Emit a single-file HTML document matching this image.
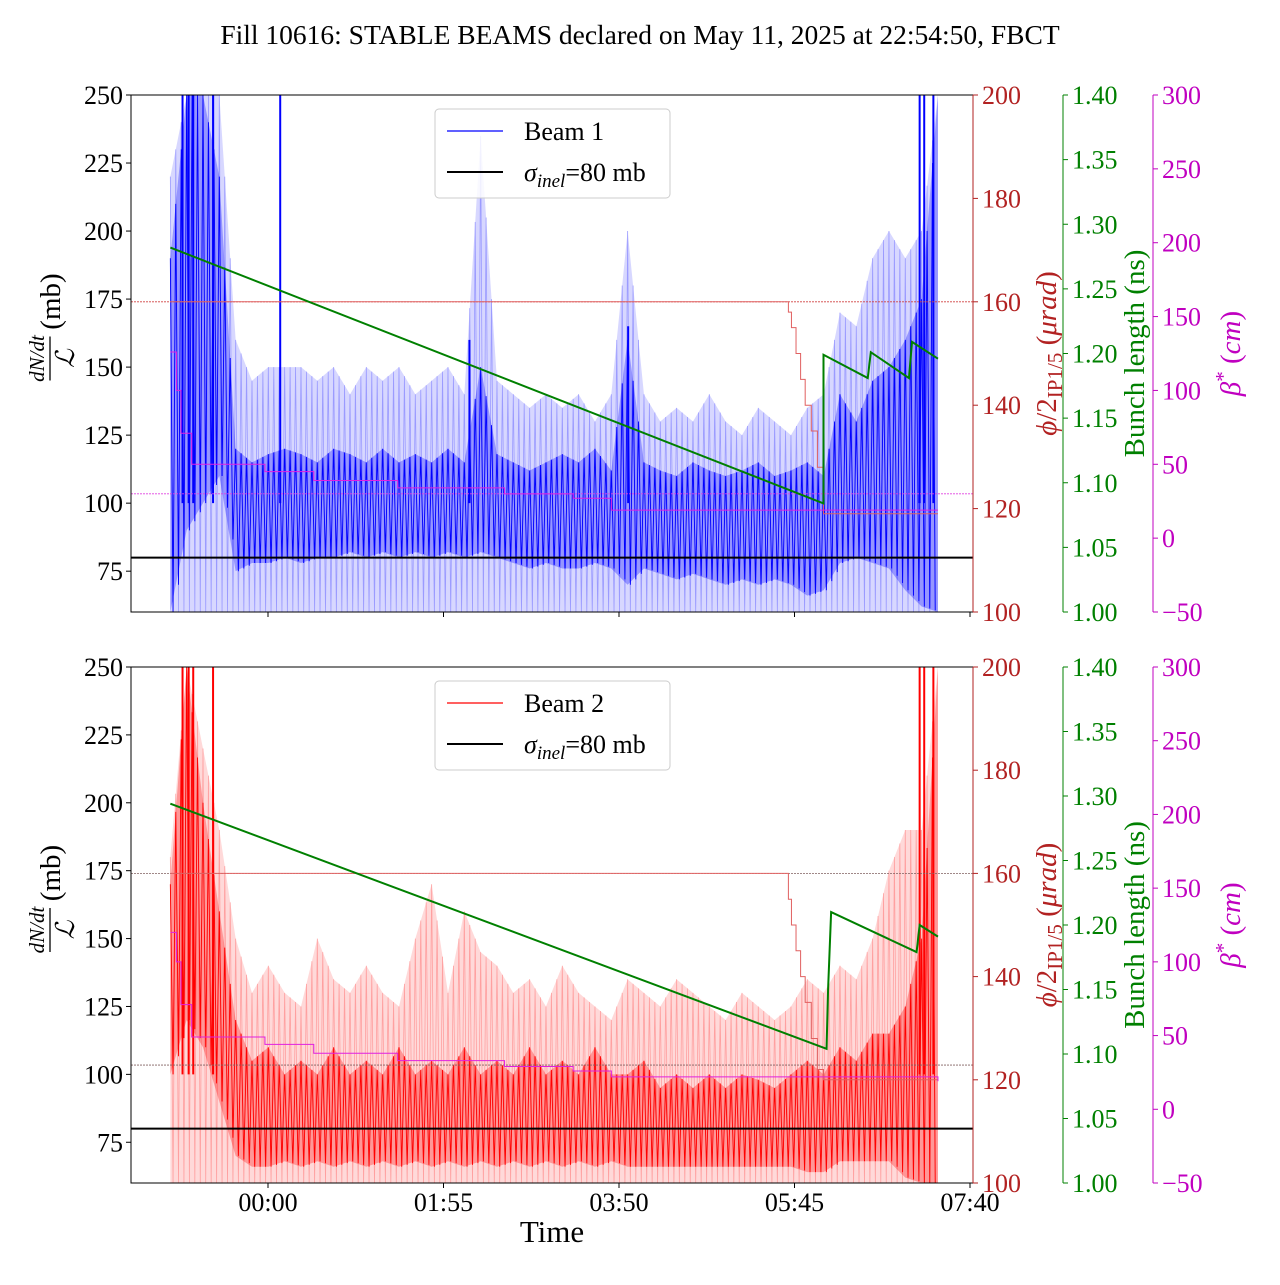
<!DOCTYPE html>
<html><head><meta charset="utf-8">
<style>
body{margin:0;background:#fff;}
svg text{font-family:"Liberation Serif",serif;}
</style></head>
<body>
<svg id="chart" width="1280" height="1280" xmlns="http://www.w3.org/2000/svg">
<text x="640" y="44" text-anchor="middle" font-size="27.5">Fill 10616: STABLE BEAMS declared on May 11, 2025 at 22:54:50, FBCT</text>
<text x="552" y="1242" text-anchor="middle" font-size="31">Time</text>
</svg>
<script>
const timeTicks=["00:00","01:55","03:50","05:45","07:40"];
const timeTickMin=[0,115,230,345,460];
const leftTicks=[75,100,125,150,175,200,225,250];
const redTicks=[100,120,140,160,180,200];
const greenTicks=[1.00,1.05,1.10,1.15,1.20,1.25,1.30,1.35,1.40];
const magTicks=[-50,0,50,100,150,200,250,300];
const tStart=-64, tEnd=439;
const b1Upper=[220,250,250,250,160,145,150,150,150,145,150,140,150,145,150,140,145,150,140,235,145,140,135,140,135,140,130,140,200,140,130,135,130,140,130,125,135,130,125,135,140,170,165,190,200,190,200,250];
const b1Lower=[60,60,60,60,60,60,60,60,60,60,60,60,60,60,60,60,60,60,60,60,60,60,60,60,60,60,60,60,60,60,60,60,60,60,60,60,60,60,60,60,60,60,60,60,60,60,60,60];
const b1DarkUp=[190,250,250,220,120,115,118,120,118,115,120,118,115,120,115,118,115,120,115,150,118,115,112,115,118,115,120,112,160,115,112,110,115,112,110,112,115,110,112,115,110,140,130,145,150,160,175,250];
const b1DarkLo=[60,90,100,110,75,78,78,80,78,80,80,82,80,82,80,82,80,82,80,82,80,78,76,78,76,76,78,76,70,76,74,72,74,72,70,72,70,72,70,66,68,78,80,78,76,68,62,60];
const b1SpikeT=[-56,-52,-49,-36,8,132,236,427,430,436];
const b1SpikeV=[250,250,250,250,250,160,165,250,250,250];
const b2Upper=[180,250,220,190,150,130,140,130,125,150,135,130,140,130,125,150,170,130,160,145,140,130,135,125,140,130,125,120,135,130,125,135,130,125,120,130,125,120,125,135,130,140,135,150,175,190,190,250];
const b2Lower=[60,60,60,60,60,60,60,60,60,60,60,60,60,60,60,60,60,60,60,60,60,60,60,60,60,60,60,60,60,60,60,60,60,60,60,60,60,60,60,60,60,60,60,60,60,60,60,60];
const b2DarkUp=[170,250,200,160,120,105,110,100,105,100,110,100,105,100,110,100,105,100,110,100,105,100,110,100,105,100,110,100,100,105,95,100,95,100,95,100,98,95,100,105,100,110,105,115,115,125,150,250];
const b2DarkLo=[100,120,110,90,70,66,66,68,66,68,66,68,66,68,66,68,66,68,66,68,66,68,66,68,66,68,66,68,66,66,66,66,66,66,66,66,66,66,66,64,64,68,68,68,68,62,60,60];
const b2SpikeT=[-56,-52,-49,-36,427,430,436];
const b2SpikeV=[250,250,250,250,250,250,250];
const bl1T=[-64,364,364,364,393,395,420,422,439];
const bl1V=[1.282,1.084,1.165,1.199,1.181,1.201,1.181,1.209,1.196];
const bl2T=[-64,366,367,369,425,427,439];
const bl2V=[1.294,1.104,1.150,1.210,1.179,1.200,1.191];
const xa1T=[-64,341,343,346,349,352,356,360,364,439];
const xa1V=[160,158,155,150,145,140,135,128,119,119];
const xa2T=[-64,341,343,346,349,352,356,360,364,439];
const xa2V=[160,155,150,145,140,135,128,122,120,120];
const bs1T=[-64,-60,-57,-50,-25,-2,30,85,155,200,225,439];
const bs1V=[126,100,71,50,50,45,39,34,30,27,19,19];
const bs2T=[-64,-60,-57,-50,-25,-2,30,85,155,200,225,439];
const bs2V=[120,100,71,49,49,44,38,33,29,26,22,19];

const NS="http://www.w3.org/2000/svg";
const svg=document.getElementById('chart');
const X0=131,X1=973;
function xT(t){return 268+t*175.5/115;}
function mk(tag,attrs,parent){const e=document.createElementNS(NS,tag);for(const k in attrs)e.setAttribute(k,attrs[k]);(parent||svg).appendChild(e);return e;}
function panel(top,bot,upper,lower,dUp,dLo,spT,spV,col,light,blT,blV,xaT,xaV,bsT,bsV,label,showX,pname){
  const yL=v=>top+(250-v)*(bot-top)/190;
  const yR=v=>top+(200-v)*(bot-top)/100;
  const yG=v=>top+(1.4-v)*(bot-top)/0.4;
  const yM=v=>top+(300-v)*(bot-top)/350;
  const g=mk('g',{});
  
  
  const cid='clip'+top;
  const cp=mk('clipPath',{id:cid},g);mk('rect',{x:X0,y:top,width:X1-X0,height:bot-top},cp);
  const pg=mk('g',{'clip-path':'url(#'+cid+')'},g);
  const tAt=(i,n)=>tStart+(tEnd-tStart)*i/(n-1);
  function bandPts(U,L){let p=[];const n=U.length;
    for(let i=0;i<n;i++)p.push(xT(tAt(i,n))+','+yL(U[i]));
    for(let i=n-1;i>=0;i--)p.push(xT(tAt(i,n))+','+yL(L[i]));return p.join(' ');}
  function zig(U,L,sub){let p=[];const n=U.length;
    for(let i=0;i<n-1;i++){const a=tAt(i,n),b=tAt(i+1,n);
      for(let k=0;k<sub;k++){const f=k/sub,t=a+(b-a)*f;const u=U[i]+(U[i+1]-U[i])*f,l=L[i]+(L[i+1]-L[i])*f;
        p.push(xT(t)+','+yL(u));p.push(xT(t+(b-a)/(2*sub))+','+yL(l));}}
    return p.join(' ');}
  const band=mk('polygon',{points:bandPts(upper,lower),fill:light,opacity:0.4},pg);
  
  
  const lz=mk('polyline',{points:zig(upper,lower,3),fill:'none',stroke:light,'stroke-width':0.8},pg);
  
  
  const db=mk('polygon',{points:bandPts(dUp,dLo),fill:col,opacity:0.3},pg);
  
  
  const dz=mk('polyline',{points:zig(dUp,dLo,3),fill:'none',stroke:col,'stroke-width':0.9},pg);
  
  
  spT.forEach((t,i)=>{const s=mk('line',{x1:xT(t),x2:xT(t),y1:yL(100),y2:yL(spV[i]),stroke:col,'stroke-width':2},pg);
    
    });
  const r1=mk('line',{x1:X0,x2:X1,y1:yR(160),y2:yR(160),stroke:top<300?'#d04040':'#806060','stroke-width':0.8,'stroke-dasharray':'2,1'},pg);
  
  
  const r2=mk('line',{x1:X0,x2:X1,y1:yM(30),y2:yM(30),stroke:top<300?'#e040e0':'#806060','stroke-width':0.8,'stroke-dasharray':'2,1'},pg);
  
  
  function step(T,V,yf,c,name){let p=[];for(let i=0;i<T.length;i++){if(i>0)p.push(xT(T[i])+','+yf(V[i-1]));p.push(xT(T[i])+','+yf(V[i]));}
    const e=mk('polyline',{points:p.join(' '),fill:'none',stroke:c,'stroke-width':1},pg);}
  step(xaT,xaV,yR,'#e06060','crossing-angle-line');
  step(bsT,bsV,yM,'#e020e0','beta-star-line');
  let p=[];for(let i=0;i<blT.length;i++)p.push(xT(blT[i])+','+yG(blV[i]));
  const gl=mk('polyline',{points:p.join(' '),fill:'none',stroke:'#008000','stroke-width':2},pg);
  
  
  const bk=mk('line',{x1:X0,x2:X1,y1:yL(80),y2:yL(80),stroke:'#000','stroke-width':2},pg);
  
  
  mk('rect',{x:X0,y:top,width:X1-X0,height:bot-top,fill:'none',stroke:'#000','stroke-width':1},g);
  leftTicks.forEach(v=>{const y=yL(v);mk('line',{x1:X0-5,x2:X0,y1:y,y2:y,stroke:'#000'},g);
    const t=mk('text',{x:X0-8,y:y+9,'text-anchor':'end','font-size':26},g);t.textContent=v;});
  function raxis(x,ticks,yf,c,fmt,name){mk('line',{x1:x,x2:x,y1:top,y2:bot,stroke:c},g);
    ticks.forEach(v=>{const y=yf(v);mk('line',{x1:x,x2:x+5,y1:y,y2:y,stroke:c},g);
      const t=mk('text',{x:x+9,y:y+9,'font-size':26,fill:c},g);t.textContent=fmt(v);});}
  raxis(X1,redTicks,yR,'#b22222',v=>v,'crossing-angle-tick');
  raxis(1063,greenTicks,yG,'#008000',v=>v.toFixed(2),'bunch-length-tick');
  raxis(1153,magTicks,yM,'#c000c0',v=>v<0?'\u2212'+(-v):v,'beta-star-tick');
  timeTickMin.forEach((tm,i)=>{const x=xT(tm);mk('line',{x1:x,x2:x,y1:bot,y2:bot+5,stroke:'#000'},g);
    if(showX){const t=mk('text',{x:x,y:bot+28,'text-anchor':'middle','font-size':26},g);t.textContent=timeTicks[i];}});
  const mid=(top+bot)/2;
  const lt=mk('g',{transform:`translate(60,${mid}) rotate(-90)`},g);
  
  
  let t=mk('text',{x:-5,y:-16,'text-anchor':'middle','font-size':21,'font-style':'italic'},lt);t.textContent='dN/dt';
  mk('line',{x1:-27,x2:17,y1:-10,y2:-10,stroke:'#000','stroke-width':1.3},lt);
  t=mk('text',{x:-5,y:14,'text-anchor':'middle','font-size':26,'font-style':'italic'},lt);t.textContent='\u2112';
  t=mk('text',{x:52,y:0,'text-anchor':'middle','font-size':29},lt);t.textContent='(mb)';
  function rt(x,c,str,name){const e=mk('text',{transform:`translate(${x},${mid}) rotate(-90)`,'text-anchor':'middle','font-size':29,fill:c},g);e.innerHTML=str;}
  rt(1056,'#b22222','<tspan font-style="italic">ϕ</tspan>/2<tspan font-size="21" dy="6">IP1/5</tspan><tspan dy="-6"> (</tspan><tspan font-style="italic">μrad</tspan>)','crossing-angle-title');
  rt(1144,'#008000','Bunch length (ns)','bunch-length-title');
  rt(1240,'#c000c0','<tspan font-style="italic">β</tspan><tspan dy="-10" font-size="21">*</tspan><tspan dy="10"> (</tspan><tspan font-style="italic">cm</tspan>)','beta-star-title');
  const lg=mk('g',{},g);
  
  
  mk('rect',{x:435,y:top+14,width:235,height:89,rx:4,fill:'#fff','fill-opacity':0.85,stroke:'#ccc'},lg);
  mk('line',{x1:447,x2:503,y1:top+36,y2:top+36,stroke:col,'stroke-width':1.2},lg);
  t=mk('text',{x:524,y:top+45,'font-size':26},lg);t.textContent=label;
  mk('line',{x1:447,x2:503,y1:top+77,y2:top+77,stroke:'#000','stroke-width':2},lg);
  t=mk('text',{x:524,y:top+86,'font-size':26},lg);t.innerHTML='<tspan font-style="italic">σ</tspan><tspan font-size="19" font-style="italic" dy="6">inel</tspan><tspan dy="-6">=80 mb</tspan>';
}
panel(95,612,b1Upper,b1Lower,b1DarkUp,b1DarkLo,b1SpikeT,b1SpikeV,'#0000ff','#9b9bff',bl1T,bl1V,xa1T,xa1V,bs1T,bs1V,'Beam 1',false,'beam1-panel');
panel(667,1183,b2Upper,b2Lower,b2DarkUp,b2DarkLo,b2SpikeT,b2SpikeV,'#ff0000','#ffa0a0',bl2T,bl2V,xa2T,xa2V,bs2T,bs2V,'Beam 2',true,'beam2-panel');
</script>
</body></html>
